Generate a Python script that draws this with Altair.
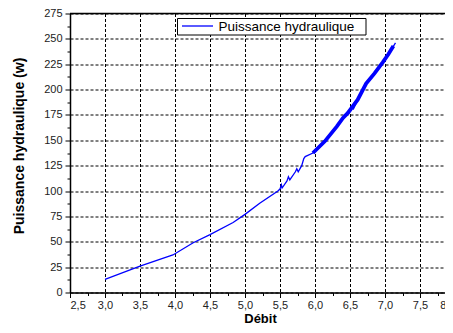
import altair as alt
import pandas as pd

# Main curve (Débit, Puissance hydraulique)
debit = [3.00, 3.50, 3.97, 4.26, 4.50, 4.83, 5.00, 5.21, 5.47, 5.50, 5.52, 5.53, 5.60,
         5.62, 5.64, 5.72, 5.74, 5.76, 5.81, 5.84, 5.86, 5.97, 6.14, 6.31, 6.40, 6.47,
         6.52, 6.55, 6.61, 6.73, 6.85, 6.97, 7.05, 7.15]
puissance = [13, 26, 37, 49, 57, 69, 77, 88, 100, 102, 106, 103, 110,
             114, 111, 119, 122, 119, 125, 132, 134, 137.5, 149, 163.5, 172, 177,
             183, 181, 190, 206, 216, 227, 235, 246]

# Dense (thick) part of the measured cloud
band_debit = [5.97, 6.14, 6.31, 6.40, 6.47, 6.61, 6.73, 6.85, 6.97, 7.05, 7.12]
band_puissance = [137.5, 149, 163.5, 172, 177, 190, 206, 216, 227, 235, 243]

x_ticks = [2.5, 2.75, 3.0, 3.25, 3.5, 3.75, 4.0, 4.25, 4.5, 4.75, 5.0, 5.25, 5.5,
           5.75, 6.0, 6.25, 6.5, 6.75, 7.0, 7.25, 7.5, 7.75, 8.0]
y_ticks = [0, 12.5, 25, 37.5, 50, 62.5, 75, 87.5, 100, 112.5, 125, 137.5, 150,
           162.5, 175, 187.5, 200, 212.5, 225, 237.5, 250, 262.5, 275]

legend_label = "Puissance hydraulique"

df = pd.DataFrame({"Débit": debit, "P": puissance})
band = pd.DataFrame({"Débit": band_debit, "P": band_puissance})
one = pd.DataFrame({"a": [0]})

x_major = "abs(datum.value * 2 - round(datum.value * 2)) < 0.01"
y_major = "datum.value % 25 === 0"

common = dict(
    labelOverlap=False,
    labelFont="Liberation Sans",
    labelFontSize=11,
    labelColor="#222222",
    titleFont="Liberation Sans",
    titleFontWeight="bold",
    titleColor="black",
    domainColor="black",
    domainWidth=1.5,
    tickColor="black",
    tickWidth=1,
    grid=True,
    gridColor="black",
    gridDash=[3, 2],
    gridWidth=1,
)

x_axis = alt.Axis(
    values=x_ticks,
    labelExpr=f"({x_major}) ? replace(format(datum.value, '.1f'), '.', ',') : ''",
    tickSize={"condition": {"test": x_major, "value": 5}, "value": 3},
    gridOpacity={"condition": {"test": x_major, "value": 1}, "value": 0},
    title="Débit",
    titleFontSize=13,
    titleX=190,
    titleY=29.5,
    titleAlign="center",
    titleBaseline="alphabetic",
    labelPadding=2,
    **common,
)
y_axis = alt.Axis(
    values=y_ticks,
    labelExpr=f"({y_major}) ? format(datum.value, 'd') : ''",
    tickSize={"condition": {"test": y_major, "value": 5}, "value": 3},
    gridOpacity={"condition": {"test": y_major, "value": 1}, "value": 0},
    title="Puissance hydraulique (w)",
    titleFontSize=14,
    titleX=-47,
    titleY=132,
    titleAngle=270,
    titleAlign="center",
    titleBaseline="alphabetic",
    labelPadding=3,
    **common,
)

xs = alt.Scale(domain=[2.5, 8.0], nice=False, range=[0, 385])
ys = alt.Scale(domain=[0, 275], nice=False)

line = alt.Chart(df).mark_line(color="#0000FF", strokeWidth=1.3).encode(
    x=alt.X("Débit:Q", scale=xs, axis=x_axis),
    y=alt.Y("P:Q", scale=ys, axis=y_axis),
    order=alt.Order("Débit:Q"),
)
thick = alt.Chart(band).mark_line(color="#0000FF", strokeWidth=3.8).encode(
    x=alt.X("Débit:Q", scale=xs, axis=x_axis),
    y=alt.Y("P:Q", scale=ys, axis=y_axis),
)

top_border = alt.Chart(one).mark_rule(color="black", strokeWidth=1.5).encode(
    x=alt.value(0), x2=alt.value(385), y=alt.value(0)
)

leg_box = alt.Chart(one).mark_rect(fill="white", stroke="black", strokeWidth=1).encode(
    x=alt.value(107.5), x2=alt.value(296), y=alt.value(5), y2=alt.value(21.5)
)
leg_line = alt.Chart(one).mark_rule(color="#0000FF", strokeWidth=1.3).encode(
    x=alt.value(112), x2=alt.value(143), y=alt.value(12.5)
)
leg_text = alt.Chart(one).mark_text(
    align="left", baseline="middle", fontSize=13.5, font="Liberation Sans", color="black"
).encode(x=alt.value(148.5), y=alt.value(13.5), text=alt.value(legend_label))

chart = alt.layer(line, thick, top_border, leg_box, leg_line, leg_text).properties(
    width=375,
    height=279,
    autosize=alt.AutoSizeParams(type="none"),
    padding={"left": 62, "top": 5.5, "right": 0, "bottom": 32.5},
).configure_view(
    strokeWidth=0
).configure(background="white")

chart.save("out.html", embed_options={"renderer": "svg", "actions": False})
